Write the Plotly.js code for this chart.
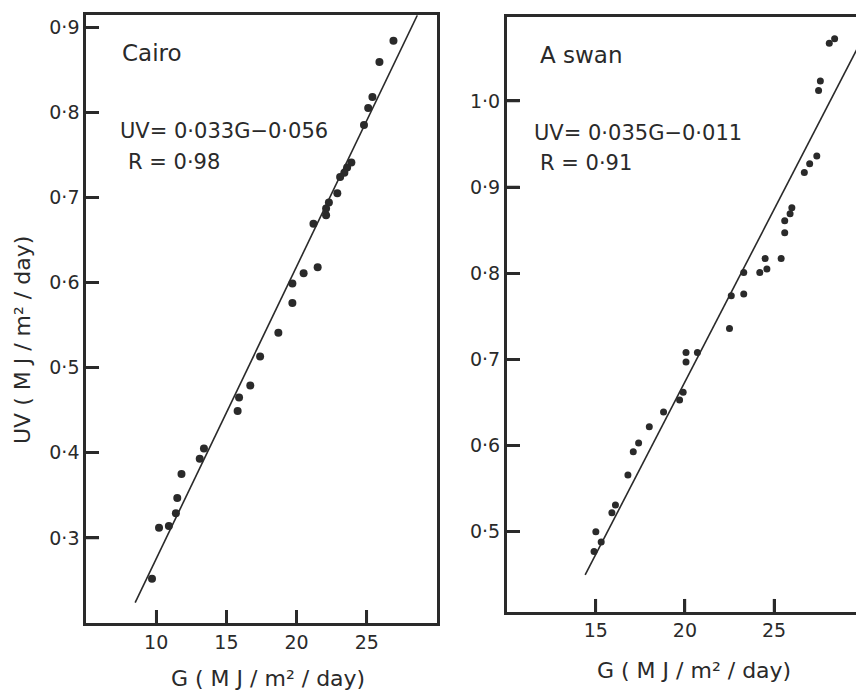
<!DOCTYPE html>
<html><head><meta charset="utf-8">
<script src="https://cdn.plot.ly/plotly-3.0.1.min.js"></script>
<style>body{margin:0;background:#fff}#chart{width:856px;height:693px}</style>
</head><body><div id="chart"></div>
<script>
// Cairo panel data
const cairoG = [26.9,25.9,25.4,25.1,24.8,23.9,23.6,23.4,23.1,22.9,22.3,22.1,22.1,21.2,21.5,20.5,19.7,19.7,18.7,17.4,16.7,15.9,15.8,13.4,13.1,11.8,11.5,11.4,10.9,10.2,9.7];
const cairoUV = [0.884,0.859,0.818,0.805,0.785,0.741,0.735,0.729,0.724,0.705,0.694,0.687,0.679,0.669,0.618,0.611,0.599,0.576,0.541,0.513,0.479,0.465,0.449,0.405,0.393,0.375,0.347,0.329,0.314,0.312,0.252];
const cairoFitG = [8.5, 28.6];
const cairoFitUV = [0.224, 0.914];
// Aswan panel data
const aswanG = [28.1,28.4,27.6,27.5,27.4,27.0,26.7,26.0,25.9,25.6,25.6,25.4,24.5,24.6,24.2,23.3,23.3,22.6,22.5,20.06,20.06,20.7,19.9,19.7,18.8,18.0,17.4,17.1,16.8,16.1,15.9,15.0,15.3,14.9];
const aswanUV = [1.067,1.072,1.023,1.012,0.936,0.927,0.917,0.876,0.869,0.861,0.847,0.817,0.817,0.805,0.801,0.801,0.776,0.774,0.736,0.708,0.697,0.708,0.662,0.653,0.639,0.622,0.603,0.593,0.566,0.531,0.522,0.500,0.488,0.477];
const aswanFitG = [14.4, 29.7];
const aswanFitUV = [0.45, 1.062];
// ticks
const cairoXTicks = [10,15,20,25];
const cairoYTicks = [0.3,0.4,0.5,0.6,0.7,0.8,0.9];
const cairoYText = ['0·3','0·4','0·5','0·6','0·7','0·8','0·9'];
const aswanXTicks = [15,20,25];
const aswanYTicks = [0.5,0.6,0.7,0.8,0.9,1.0];
const aswanYText = ['0·5','0·6','0·7','0·8','0·9','1·0'];

const ink = '#2a2a2a';
const fam = 'DejaVu Sans, sans-serif';
const cairoXRange = [5,30], cairoYRange = [0.2,0.914];
const aswanXRange = [10,29.6], aswanYRange = [0.407,1.097];

function axis(extra) {
  return Object.assign({showgrid:false, zeroline:false, showline:true, linecolor:ink, linewidth:2.5,
    ticks:'inside', ticklen:13, tickwidth:2.5, tickcolor:ink,
    tickfont:{family:fam, size:19, color:ink}, tickmode:'array'}, extra);
}

// inside tick marks drawn as line segments starting at each tick value on the axis
function tickMarks(xt, yt, xr, yr, fx, fy, xa, ya) {
  const X = [], Y = [];
  xt.forEach(v => { X.push(v, v, null); Y.push(yr[0], yr[0] + (yr[1]-yr[0])*fy, null); });
  yt.forEach(v => { X.push(xr[0], xr[0] + (xr[1]-xr[0])*fx, null); Y.push(v, v, null); });
  return {x:X, y:Y, mode:'lines', type:'scatter', xaxis:xa, yaxis:ya, line:{color:ink, width:2.5}, hoverinfo:'skip'};
}

const traces = [
 {x:cairoG, y:cairoUV, mode:'markers', type:'scatter', xaxis:'x', yaxis:'y', marker:{size:8,color:ink}},
 {x:cairoFitG, y:cairoFitUV, mode:'lines', type:'scatter', xaxis:'x', yaxis:'y', line:{color:ink,width:1.6}},
 tickMarks(cairoXTicks, cairoYTicks, cairoXRange, cairoYRange, 0.037, 0.0214, 'x', 'y'),
 {x:aswanG, y:aswanUV, mode:'markers', type:'scatter', xaxis:'x2', yaxis:'y2', marker:{size:7,color:ink}},
 {x:aswanFitG, y:aswanFitUV, mode:'lines', type:'scatter', xaxis:'x2', yaxis:'y2', line:{color:ink,width:1.6}},
 tickMarks(aswanXTicks, aswanYTicks, aswanXRange, aswanYRange, 0.0372, 0.0218, 'x2', 'y2')
];

const ann = (text, x, y, size, extra) => Object.assign({text:text, xref:'paper', yref:'paper', x:x/856, y:1-y/693, xanchor:'left', yanchor:'middle', showarrow:false, font:{family:fam,size:size,color:ink}}, extra||{});

const layout = {
 width:856, height:693, margin:{l:0,r:0,t:0,b:0}, showlegend:false,
 xaxis: axis({domain:[0.1005,0.5105], range:cairoXRange, tickvals:cairoXTicks, ticktext:cairoXTicks.map(String), mirror:true, anchor:'y'}),
 yaxis: axis({domain:[0.101,0.978], range:cairoYRange, tickvals:cairoYTicks, ticktext:cairoYText, mirror:true, anchor:'x'}),
 xaxis2: axis({domain:[0.592,1.0], range:aswanXRange, tickvals:aswanXTicks, ticktext:aswanXTicks.map(String), mirror:true, anchor:'y2'}),
 yaxis2: axis({domain:[0.117,0.975], range:aswanYRange, tickvals:aswanYTicks, ticktext:aswanYText, mirror:false, anchor:'x2'}),
 annotations:[
  ann('Cairo', 120, 53, 23),
  ann('UV= 0·033G−0·056', 118, 131, 21),
  ann('R = 0·98', 126, 162, 21),
  ann('A swan', 538, 55, 23),
  ann('UV= 0·035G−0·011', 532, 133, 21),
  ann('R = 0·91', 538, 163, 21),
  ann('G ( M J / m² / day)', 268, 678, 22, {xanchor:'center'}),
  ann('G ( M J / m² / day)', 694, 670, 22, {xanchor:'center'}),
  ann('UV ( M J / m² / day)', 22, 340, 22, {xanchor:'center', textangle:-90})
 ]
};
Plotly.newPlot('chart', traces, layout, {displayModeBar:false});
</script></body></html>
